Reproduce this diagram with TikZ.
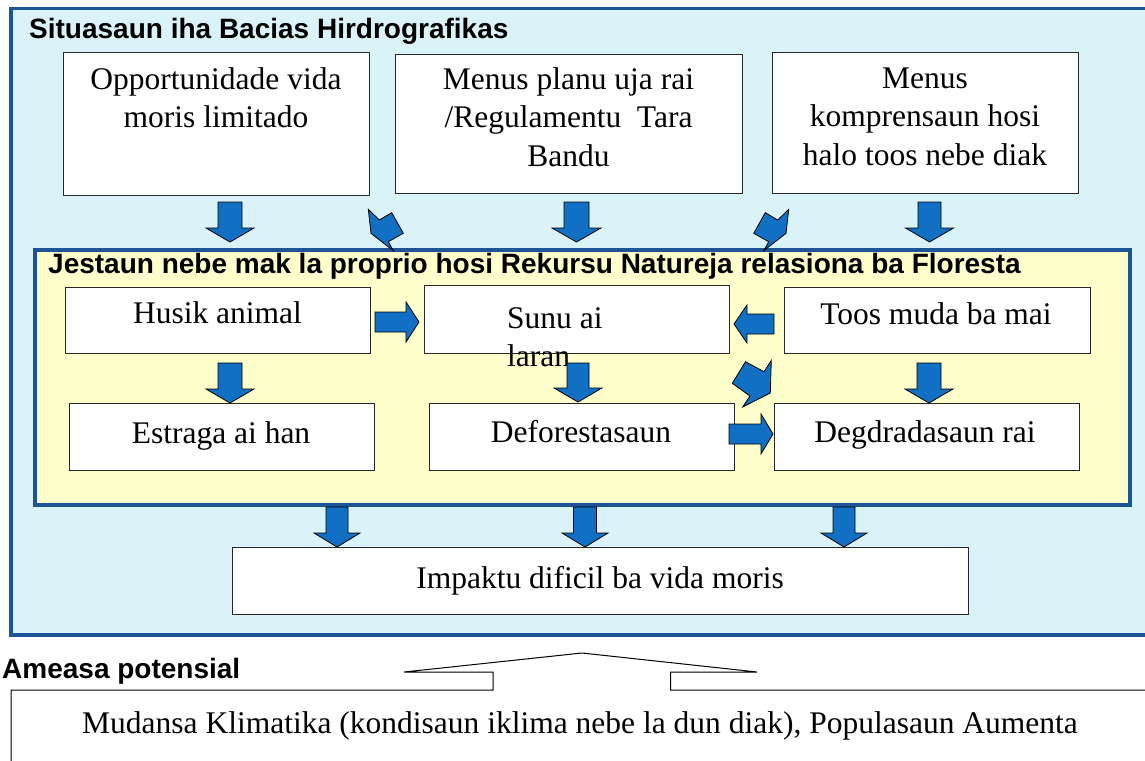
\documentclass[tikz,border=0pt]{standalone}
\usepackage{fontspec}
\setmainfont{Liberation Serif}
\newfontfamily\titlefont{Liberation Sans}
\usetikzlibrary{calc}

\definecolor{cyanbg}{RGB}{218,243,248}
\definecolor{bordblue}{RGB}{28,84,150}
\definecolor{yellowbg}{RGB}{255,255,204}
\definecolor{arrblue}{RGB}{17,112,196}
\definecolor{boxline}{RGB}{40,40,40}

\newcommand\fl{\rule{0pt}{24pt}}
% down block arrow: cx, ytop, ytip, shaft half width, head half width
\newcommand\mydarrow[5]{%
  \draw[barrow] ({#1-#4},#2) -- ({#1+#4},#2) -- ({#1+#4},{#3-14}) -- ({#1+#5},{#3-14})
    -- (#1,#3) -- ({#1-#5},{#3-14}) -- ({#1-#4},{#3-14}) -- cycle;}
% horizontal block arrow: xtail, xtip, cy, shaft half, head half, head length (signed)
\newcommand\myharrow[6]{%
  \draw[barrow] (#1,{#3-#4}) -- ({#2-#6},{#3-#4}) -- ({#2-#6},{#3-#5}) -- (#2,#3)
    -- ({#2-#6},{#3+#5}) -- ({#2-#6},{#3+#4}) -- (#1,{#3+#4}) -- cycle;}

\tikzset{
  box/.style={draw=boxline, line width=1.2pt, fill=white, inner sep=0pt, anchor=north west},
  txt/.style={font=\fontsize{31.5}{38.5}\selectfont, align=center, inner sep=0pt},
  ttl/.style={font=\titlefont\bfseries\fontsize{28}{30}\selectfont, inner sep=0pt, anchor=base west},
  barrow/.style={draw=black, line width=0.8pt, fill=arrblue, line join=miter},
  panel/.style={draw=bordblue, line width=3.5pt, inner sep=0pt, anchor=north west},
  callout/.style={draw=black, line width=1pt, fill=white},
}

\begin{document}
\begin{tikzpicture}[x=1pt,y=-1pt]
\useasboundingbox (0,0) rectangle (1145,760);
\clip (0,0) rectangle (1145,760);
\fill[white] (0,0) rectangle (1145,760);

% outer panel
\node[panel, fill=cyanbg, minimum width=1160pt, minimum height=626pt] (outer) at (9,7) {};
\node[ttl] (title1) at (29,39) {Situasaun iha Bacias Hirdrografikas};

% top boxes
\node[box, minimum width=306pt, minimum height=143pt] (b1) at (63,52) {};
\node[box, minimum width=347pt, minimum height=139pt] (b2) at (395,54) {};
\node[box, minimum width=306pt, minimum height=141pt] (b3) at (772,52) {};
\node[txt, anchor=north] (t1) at (216,65) {\fl Opportunidade vida\\moris limitado};
\node[txt, anchor=north] (t2) at (568.5,65) {\fl Menus planu uja rai\\/Regulamentu\ \ Tara\\Bandu};
\node[txt, anchor=north] (t3) at (925,64) {\fl Menus\\komprensaun hosi\\halo toos nebe diak};

% yellow panel
\node[panel, fill=yellowbg, minimum width=1095pt, minimum height=255pt] (yel) at (33,248) {};
\node[ttl] (title2) at (48,273) {Jestaun nebe mak la proprio hosi Rekursu Natureja relasiona ba Floresta};

\node[box, minimum width=305pt, minimum height=66pt] (husik) at (65,287) {};
\node[box, minimum width=305pt, minimum height=68pt] (sunu) at (424,285) {};
\node[box, minimum width=306pt, minimum height=66pt] (toos) at (784,287) {};
\node[box, minimum width=305pt, minimum height=67pt] (estraga) at (69,403) {};
\node[box, minimum width=305pt, minimum height=67pt] (defor) at (429,403) {};
\node[box, minimum width=305pt, minimum height=67pt] (degd) at (774,403) {};

\node[txt, anchor=base] (th) at (217.5,323) {Husik animal};
\node[txt, anchor=north west, align=left] (ts) at (507,304) {\fl Sunu ai\\laran};
\node[txt, anchor=base] (tt) at (936,324) {Toos muda ba mai};
\node[txt, anchor=base] (te) at (221,443) {Estraga ai han};
\node[txt, anchor=base] (td) at (581,442) {Deforestasaun};
\node[txt, anchor=base] (tg) at (925,442) {Degdradasaun rai};

% impact box
\node[box, minimum width=736pt, minimum height=67pt] (impak) at (232,547) {};
\node[txt, anchor=base] (ti) at (600,588) {Impaktu dificil ba vida moris};

% arrows top row
\mydarrow{230}{202}{242}{12}{24}
\mydarrow{576.5}{202}{242}{12.5}{24.5}
\mydarrow{929.5}{202}{242}{11.5}{24}
\draw[barrow] (368.3,209.3) -- (379.3,220) -- (391.7,212.7) -- (403.3,233.3) -- (388.3,241.7) -- (393.3,250.7) -- (371,233.3) -- cycle;
\draw[barrow] (788.7,209.3) -- (777.7,220) -- (765.3,212.7) -- (753.7,233.3) -- (768.7,241.7) -- (763.7,250.7) -- (786,233.3) -- cycle;

% arrows inside yellow panel
\mydarrow{230}{363}{403}{12}{24}
\mydarrow{578}{363}{402}{11}{24}
\mydarrow{929}{363}{403}{12}{24}
\myharrow{375}{419}{322}{10}{20}{13}
\myharrow{774}{734}{324}{10}{19}{-13}
\myharrow{729}{773}{434}{10}{20}{12}
\draw[barrow] (732.3,383.3) -- (745.5,361.7) -- (764,371.7) -- (771.3,360.5) -- (770.3,393) -- (742.7,407) -- (750,396) -- cycle;

% bottom arrows
\mydarrow{337}{507}{547}{11}{23}
\mydarrow{585}{507}{547}{11.5}{23}
\mydarrow{844}{507}{547}{11}{23}

% threats
\node[ttl] (title3) at (2,678) {Ameasa potensial};
\draw[callout] (11,790) -- (11,690) -- (493,690) -- (493,672) -- (404,672) -- (582,653) -- (757,672)
  -- (670.5,672) -- (670.5,690) -- (1170,690) -- (1170,790) -- cycle;
\node[txt, anchor=base] (tm) at (580,733) {Mudansa Klimatika (kondisaun iklima nebe la dun diak), Populasaun Aumenta};
\end{tikzpicture}
\end{document}
